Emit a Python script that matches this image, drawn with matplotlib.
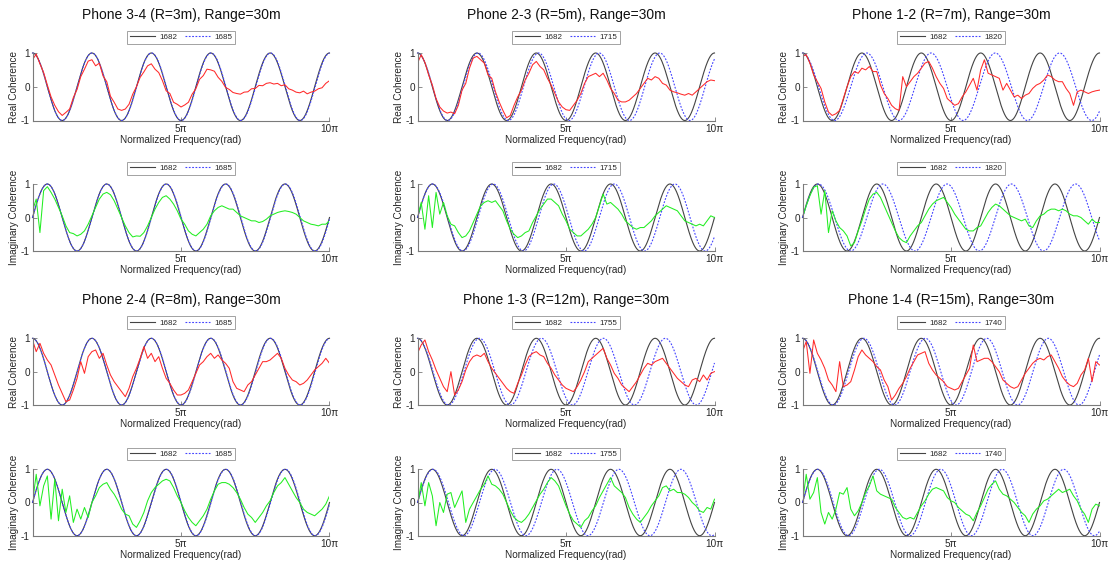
import numpy as np
import matplotlib
matplotlib.use("Agg")
import matplotlib.pyplot as plt

plt.rcParams['font.family'] = ['Liberation Sans', 'DejaVu Sans']

# ---------------- data ----------------
titles = ["Phone 3-4 (R=3m), Range=30m", "Phone 2-3 (R=5m), Range=30m", "Phone 1-2 (R=7m), Range=30m",
          "Phone 2-4 (R=8m), Range=30m", "Phone 1-3 (R=12m), Range=30m", "Phone 1-4 (R=15m), Range=30m"]
ref_speed = 1682
est_speeds = [1685, 1715, 1820, 1685, 1755, 1740]
# measured coherence, sampled every pi/8 from 0 to 10*pi
real_34 = [0.80, 0.97, 0.68, 0.42, 0.05, -0.30, -0.55, -0.74,
           -0.85, -0.76, -0.66, -0.32, -0.08, 0.30, 0.52, 0.76,
           0.80, 0.62, 0.70, 0.32, 0.15, -0.28, -0.46, -0.66,
           -0.70, -0.66, -0.52, -0.22, 0.00, 0.28, 0.44, 0.62,
           0.68, 0.52, 0.42, 0.18, -0.12, -0.20, -0.46, -0.52,
           -0.60, -0.54, -0.46, -0.22, -0.06, 0.22, 0.33, 0.52,
           0.50, 0.46, 0.28, 0.16, -0.02, -0.08, -0.17, -0.20,
           -0.22, -0.16, -0.15, -0.06, -0.05, 0.04, 0.03, 0.10,
           0.12, 0.08, 0.10, 0.03, 0.06, -0.06, -0.10, -0.16,
           -0.18, -0.13, -0.21, -0.16, -0.13, -0.06, -0.03, 0.10,
           0.18]
imag_34 = [0.20, 0.55, -0.45, 0.80, 0.92, 0.75, 0.55, 0.30,
           0.05, -0.25, -0.45, -0.48, -0.55, -0.50, -0.40, -0.20,
           0.05, 0.30, 0.55, 0.70, 0.75, 0.68, 0.50, 0.25,
           0.00, -0.25, -0.45, -0.58, -0.55, -0.56, -0.45, -0.25,
           0.00, 0.25, 0.45, 0.60, 0.65, 0.55, 0.40, 0.20,
           -0.05, -0.20, -0.40, -0.50, -0.55, -0.45, -0.35, -0.20,
           0.05, 0.20, 0.30, 0.35, 0.30, 0.25, 0.25, 0.15,
           0.05, 0.00, -0.05, -0.10, -0.10, -0.15, -0.12, -0.05,
           0.05, 0.10, 0.15, 0.18, 0.20, 0.18, 0.15, 0.10,
           0.00, -0.10, -0.15, -0.20, -0.22, -0.25, -0.20, -0.20,
           -0.10]
real_23 = [0.70, 0.95, 0.72, 0.35, 0.05, -0.35, -0.60, -0.72,
           -0.78, -0.75, -0.80, -0.55, -0.10, 0.10, 0.55, 0.85,
           0.90, 0.80, 0.70, 0.35, 0.25, -0.15, -0.45, -0.70,
           -0.92, -0.85, -0.55, -0.30, -0.10, 0.20, 0.40, 0.65,
           0.75, 0.60, 0.50, 0.25, 0.05, -0.20, -0.45, -0.60,
           -0.68, -0.70, -0.55, -0.40, -0.20, 0.10, 0.30, 0.35,
           0.40, 0.30, 0.40, 0.20, -0.05, -0.20, -0.40, -0.45,
           -0.45, -0.40, -0.30, -0.20, -0.05, 0.10, 0.25, 0.20,
           0.30, 0.25, 0.10, 0.05, -0.10, -0.15, -0.18, -0.22,
           -0.25, -0.20, -0.25, -0.15, -0.05, 0.05, 0.15, 0.20,
           0.18]
imag_23 = [0.00, 0.45, -0.35, 0.65, -0.30, 0.75, 0.10, 0.45,
           0.05, -0.20, -0.25, -0.45, -0.60, -0.55, -0.40, -0.15,
           0.10, 0.35, 0.45, 0.50, 0.45, 0.50, 0.35, 0.20,
           -0.10, -0.35, -0.50, -0.60, -0.55, -0.45, -0.40, -0.15,
           0.05, 0.25, 0.40, 0.55, 0.55, 0.45, 0.35, 0.10,
           -0.10, -0.35, -0.45, -0.55, -0.55, -0.45, -0.35, -0.20,
           0.00, 0.35, 0.70, 0.40, 0.45, 0.35, 0.25, 0.10,
           -0.10, -0.20, -0.30, -0.35, -0.30, -0.30, -0.20, -0.10,
           0.05, 0.15, 0.25, 0.35, 0.30, 0.25, 0.20, 0.05,
           -0.10, -0.15, -0.20, -0.25, -0.20, -0.25, -0.10, 0.05,
           0.00]
real_12 = [0.90, 0.95, 0.70, 0.35, 0.15, -0.05, -0.45, -0.75,
           -0.85, -0.80, -0.70, -0.35, 0.00, 0.30, 0.45, 0.40,
           0.55, 0.50, 0.60, 0.45, 0.45, 0.05, -0.20, -0.35,
           -0.55, -0.65, -0.70, 0.30, 0.00, 0.15, 0.30, 0.40,
           0.55, 0.70, 0.75, 0.55, 0.30, 0.10, -0.05, -0.35,
           -0.45, -0.55, -0.50, -0.30, -0.15, 0.05, 0.25, -0.10,
           0.50, 0.80, 0.40, 0.35, 0.30, 0.25, -0.10, 0.10,
           -0.10, -0.30, -0.25, -0.35, -0.25, -0.20, -0.05, 0.05,
           0.10, 0.20, 0.35, 0.30, 0.20, 0.15, 0.15, -0.05,
           -0.20, -0.55, -0.15, -0.10, -0.15, -0.20, -0.15, -0.12,
           -0.10]
imag_12 = [0.00, 0.35, 0.65, 0.90, 0.95, 0.10, 0.80, -0.45,
           0.20, -0.10, -0.30, -0.40, -0.55, -0.85, -0.75, -0.40,
           -0.10, 0.25, 0.55, 0.70, 0.75, 0.60, 0.35, 0.10,
           -0.15, -0.40, -0.60, -0.70, -0.75, -0.55, -0.40, -0.25,
           -0.15, 0.05, 0.25, 0.40, 0.50, 0.55, 0.60, 0.45,
           0.30, 0.10, -0.05, -0.20, -0.35, -0.40, -0.40, -0.30,
           -0.25, -0.05, 0.15, 0.30, 0.40, 0.35, 0.25, 0.15,
           0.05, 0.00, -0.05, -0.10, -0.05, -0.25, -0.30, -0.10,
           0.05, 0.10, 0.20, 0.25, 0.25, 0.20, 0.25, 0.20,
           0.10, 0.05, 0.05, 0.00, -0.10, -0.20, -0.05, -0.15,
           -0.15]
real_24 = [0.95, 0.60, 0.85, 0.55, 0.35, 0.20, -0.10, -0.40,
           -0.65, -0.90, -0.85, -0.55, -0.20, 0.30, -0.05, 0.45,
           0.60, 0.65, 0.40, 0.55, 0.20, -0.10, -0.30, -0.45,
           -0.60, -0.75, -0.50, -0.15, 0.10, 0.40, 0.75, 0.40,
           0.55, 0.30, 0.45, 0.10, -0.20, -0.35, -0.55, -0.70,
           -0.70, -0.65, -0.55, -0.30, -0.05, 0.20, 0.30, 0.45,
           0.55, 0.40, 0.50, 0.35, 0.25, 0.10, -0.30, -0.50,
           -0.55, -0.60, -0.40, -0.30, -0.10, 0.10, 0.30, 0.30,
           0.35, 0.45, 0.55, 0.40, 0.10, -0.10, -0.25, -0.30,
           -0.40, -0.35, -0.25, -0.10, 0.05, 0.15, 0.25, 0.40,
           0.25]
imag_24 = [0.00, 0.85, -0.10, 0.50, 0.80, -0.50, 0.70, -0.55,
           0.40, -0.30, 0.20, -0.60, -0.20, -0.50, -0.15, -0.45,
           0.00, 0.20, 0.45, 0.55, 0.60, 0.40, 0.25, 0.05,
           -0.20, -0.35, -0.40, -0.65, -0.75, -0.55, -0.30, 0.05,
           0.30, 0.45, 0.55, 0.65, 0.70, 0.65, 0.45, 0.20,
           0.00, -0.25, -0.45, -0.60, -0.70, -0.55, -0.40, -0.20,
           0.10, 0.35, 0.55, 0.60, 0.60, 0.55, 0.45, 0.30,
           0.10, -0.15, -0.35, -0.45, -0.60, -0.45, -0.30, -0.10,
           0.05, 0.30, 0.50, 0.60, 0.75, 0.55, 0.35, 0.15,
           0.00, -0.20, -0.30, -0.35, -0.40, -0.30, -0.20, -0.05,
           0.20]
real_13 = [0.55, 0.80, 0.95, 0.60, 0.35, 0.05, -0.20, -0.45,
           -0.60, 0.00, -0.70, -0.55, -0.30, 0.05, 0.30, 0.45,
           0.50, 0.45, 0.55, 0.30, 0.10, -0.05, -0.20, -0.35,
           -0.50, -0.60, -0.65, -0.35, -0.10, 0.20, 0.45, 0.55,
           0.60, 0.50, 0.45, 0.25, 0.10, -0.10, -0.25, -0.40,
           -0.50, -0.55, -0.60, -0.45, -0.25, 0.00, 0.30, 0.40,
           0.50, 0.60, 0.70, 0.40, 0.20, -0.05, -0.20, -0.40,
           -0.50, -0.60, -0.45, -0.30, -0.10, 0.10, 0.25, 0.20,
           0.30, 0.35, 0.40, 0.25, 0.10, -0.05, -0.20, -0.30,
           -0.40, -0.45, -0.25, -0.20, -0.30, -0.10, -0.25, -0.05,
           0.00]
imag_13 = [-0.10, 0.60, -0.10, 0.60, 0.20, -0.70, 0.00, -0.30,
           0.25, 0.30, -0.15, 0.10, 0.35, -0.60, -0.20, 0.00,
           0.20, 0.40, 0.55, 0.80, 0.55, 0.50, 0.40, 0.25,
           0.00, -0.25, -0.45, -0.55, -0.60, -0.50, -0.35, -0.15,
           0.05, 0.25, 0.40, 0.60, 0.75, 0.65, 0.50, 0.20,
           -0.10, -0.35, -0.55, -0.65, -0.75, -0.55, -0.45, -0.25,
           -0.10, 0.15, 0.35, 0.55, 0.75, 0.50, 0.40, 0.30,
           0.15, -0.15, -0.35, -0.50, -0.60, -0.45, -0.30, -0.10,
           0.05, 0.20, 0.45, 0.50, 0.35, 0.40, 0.30, 0.30,
           0.25, 0.15, 0.00, -0.10, -0.25, -0.30, -0.15, -0.20,
           0.10]
real_14 = [0.60, 0.90, -0.05, 0.95, 0.55, 0.35, 0.10, -0.25,
           -0.40, -0.60, 0.30, -0.45, -0.40, -0.30, 0.05, 0.45,
           0.65, 0.50, 0.40, 0.30, 0.15, 0.05, -0.25, -0.45,
           -0.85, -0.70, -0.50, -0.35, -0.15, 0.10, 0.30, 0.50,
           0.55, 0.60, 0.25, 0.05, -0.10, -0.20, -0.30, -0.45,
           -0.50, -0.55, -0.50, -0.30, -0.10, 0.10, 0.80, 0.30,
           0.35, 0.40, 0.40, 0.30, 0.15, 0.00, -0.25, -0.35,
           -0.45, -0.50, -0.45, -0.25, -0.05, 0.10, 0.25, 0.35,
           0.40, 0.35, 0.45, 0.50, 0.30, 0.10, -0.15, -0.30,
           -0.40, -0.45, -0.35, -0.10, 0.05, 0.40, -0.30, 0.30,
           0.20]
imag_14 = [0.00, 0.85, 0.10, 0.30, 0.75, -0.30, -0.65, -0.30,
           -0.50, -0.20, 0.30, 0.25, 0.45, -0.20, -0.40, -0.25,
           0.00, 0.30, 0.50, 0.80, 0.35, 0.25, 0.20, 0.15,
           0.10, -0.15, -0.30, -0.45, -0.50, -0.45, -0.50, -0.30,
           -0.10, 0.05, 0.25, 0.40, 0.45, 0.40, 0.35, 0.15,
           0.05, 0.00, -0.15, -0.25, -0.35, -0.40, -0.55, -0.30,
           -0.10, 0.15, 0.40, 0.55, 0.65, 0.40, 0.25, 0.20,
           0.10, 0.00, -0.15, -0.30, -0.40, -0.60, -0.35, -0.20,
           -0.10, 0.05, 0.10, 0.20, 0.30, 0.40, 0.30, 0.35,
           0.40, 0.20, 0.05, -0.20, -0.35, -0.60, -0.20, -0.05,
           -0.10]
real_data = [real_34, real_23, real_12, real_24, real_13, real_14]
imag_data = [imag_34, imag_23, imag_12, imag_24, imag_13, imag_14]

# ---------------- layout ----------------
W, H = 1110, 565
fig = plt.figure(figsize=(W / 100, H / 100), dpi=100)
col_left = [32.5, 417.5, 802.5]
ax_w = 297
rows = [(53, 120.5), (184, 251), (338.3, 405), (469.3, 535.7)]
title_y = [15, 300]

xt = np.linspace(0, 10 * np.pi, 1200)
axcol = '#262626'
spine_col = '#7a7a7a'

for p in range(6):
    r, c = divmod(p, 3)
    left = col_left[c]
    fig.text((left + ax_w / 2) / W, 1 - title_y[r] / H, titles[p], ha='center', va='center',
             fontsize=10, color='#111111')
    for k, (kind, data, col) in enumerate([('Real', real_data[p], '#ff2a2a'),
                                           ('Imaginary', imag_data[p], '#22ee22')]):
        top, bot = rows[2 * r + k]
        ax = fig.add_axes([left / W, 1 - bot / H, ax_w / W, (bot - top) / H])
        func = np.cos if kind == 'Real' else np.sin
        l1, = ax.plot(xt, func(xt), color='#444444', lw=0.8, clip_on=False)
        l2, = ax.plot(xt, func(xt * ref_speed / est_speeds[p]), color='#4444ff', lw=0.8,
                      linestyle=(0, (1.6, 1.4)), clip_on=False)
        xd = np.linspace(0, 10 * np.pi, len(data))
        ax.plot(xd, data, color=col, lw=0.75)
        ax.set_xlim(0, 10 * np.pi)
        ax.set_ylim(-1, 1)
        ax.set_xticks([5 * np.pi, 10 * np.pi])
        ax.set_xticklabels(['5π', '10π'])
        ax.set_yticks([-1, 0, 1])
        ax.set_yticklabels(['-1', '0', '1'])
        for s in ['top', 'right']:
            ax.spines[s].set_visible(False)
        for s in ['left', 'bottom']:
            ax.spines[s].set_color(spine_col)
            ax.spines[s].set_linewidth(0.8)
        ax.tick_params(direction='in', length=3, width=0.6, colors=spine_col,
                       labelsize=7.2, labelcolor=axcol)
        ax.tick_params(axis='y', pad=1.8)
        ax.tick_params(axis='x', pad=2.5)
        ax.set_xlabel('Normalized Frequency(rad)', fontsize=7.2, color=axcol, labelpad=0.5)
        ax.set_ylabel(kind + ' Coherence', fontsize=7.2, color=axcol, labelpad=1.5)
        leg = ax.legend([l1, l2], [str(ref_speed), str(est_speeds[p])], ncol=2,
                        loc='lower center', bbox_to_anchor=(0.5, 1.14), fontsize=5.8,
                        frameon=True, fancybox=False, handlelength=3.1, columnspacing=0.9,
                        handletextpad=0.6, borderpad=0.3, borderaxespad=0)
        leg.get_frame().set_edgecolor('#8a8a8a')
        leg.get_frame().set_linewidth(0.7)
        for t in leg.get_texts():
            t.set_color(axcol)

fig.savefig('out.png', dpi=100, facecolor='white')
